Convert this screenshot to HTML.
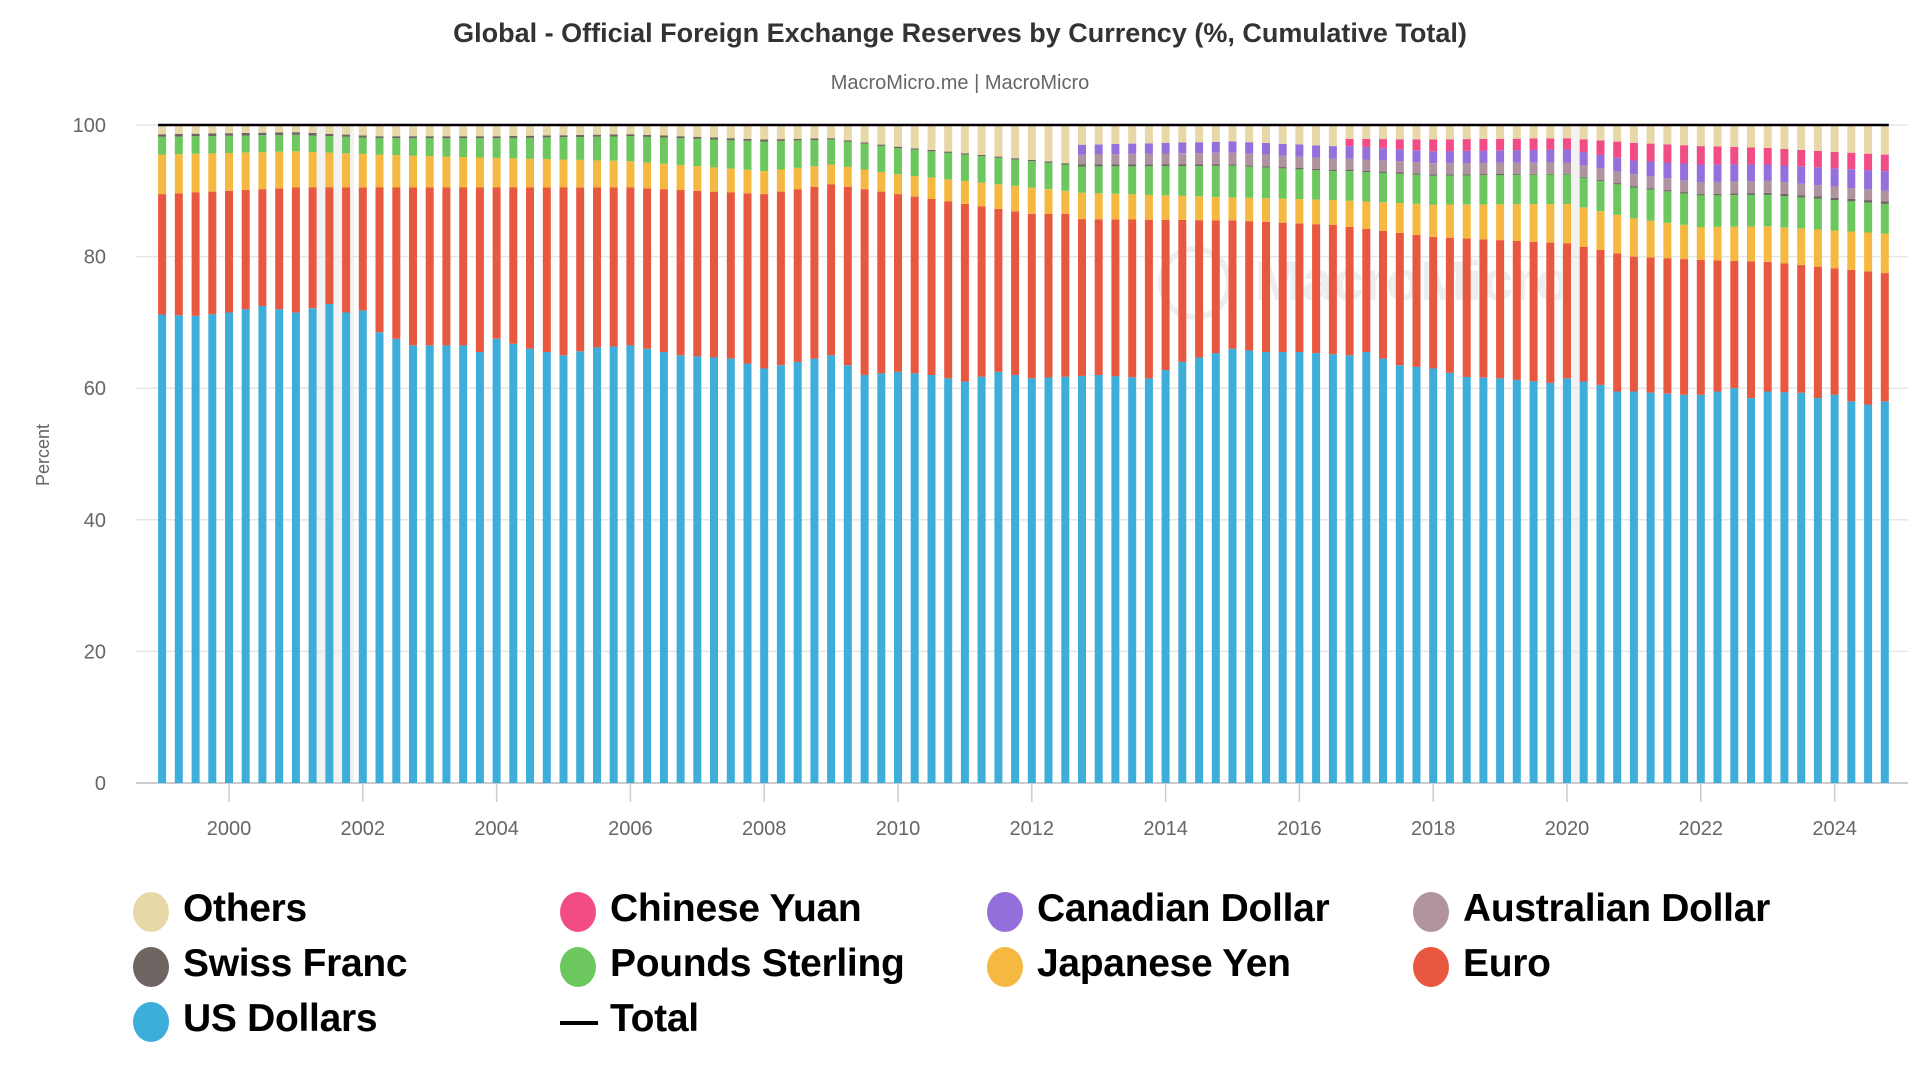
<!DOCTYPE html>
<html><head><meta charset="utf-8"><style>
body{margin:0;background:#fff;width:1920px;height:1080px;overflow:hidden;font-family:"Liberation Sans",sans-serif}
.lg{position:absolute;font-weight:900;font-size:39px;color:#000;letter-spacing:-0.3px}
.dot{position:absolute;width:36px;height:40px;border-radius:50%}
</style></head><body>
<svg id="s" width="1920" height="1080" style="position:absolute;left:0;top:0"></svg>
<div id="leg"></div>
<script>
const S=document.getElementById('s');let h='';
h+='<text x="960" y="42" text-anchor="middle" font-size="27" font-weight="bold" fill="#333" font-family="Liberation Sans">Global - Official Foreign Exchange Reserves by Currency (%, Cumulative Total)</text>';
h+='<text x="960" y="89" text-anchor="middle" font-size="20" fill="#666" font-family="Liberation Sans">MacroMicro.me | MacroMicro</text>';
const Y=v=>783-v*6.58;const X=t=>229+(t-2000)*66.9;
h+='<rect x="314" y="125" width="40" height="658" fill="#f2f2f2"/>';
h+='<rect x="1561" y="125" width="20" height="658" fill="#f2f2f2"/>';
for(let v=0;v<=100;v+=20){h+='<line x1="136" x2="1908" y1="'+Y(v)+'" y2="'+Y(v)+'" stroke="#e6e6e6" stroke-width="1.5"/>';
h+='<text x="106" y="'+(Y(v)+7)+'" text-anchor="end" font-size="20" fill="#666" font-family="Liberation Sans">'+v+'</text>';}
h+='<text transform="translate(49,455) rotate(-90)" text-anchor="middle" font-size="18" fill="#666" font-family="Liberation Sans">Percent</text>';
h+='<line x1="136" x2="1908" y1="783" y2="783" stroke="#ccc" stroke-width="2"/>';
for(let y=2000;y<=2024;y+=2){const x=X(y);h+='<line x1="'+x+'" x2="'+x+'" y1="783" y2="802" stroke="#ccc" stroke-width="1.5"/><text x="'+x+'" y="835" text-anchor="middle" font-size="20" fill="#666" font-family="Liberation Sans">'+y+'</text>';}
h+='<text x="1255" y="300" font-size="56" fill="#eee" font-family="Liberation Sans" font-weight="bold">MacroMicro</text><circle cx="1195" cy="283" r="34" fill="none" stroke="#eee" stroke-width="6"/>';
const usdK=[[1999,71.2],[1999.5,71],[2000,71.5],[2000.5,72.5],[2001,71.5],[2001.5,72.8],[2001.75,71.5],[2002,71.8],[2002.25,68.5],[2002.75,66.5],[2003.5,66.5],[2003.75,65.5],[2004,67.5],[2004.5,66],[2005,65],[2005.5,66.2],[2006,66.5],[2006.75,65],[2007.5,64.5],[2008,63],[2008.5,64],[2009,65],[2009.5,62],[2010,62.5],[2010.5,62],[2011,61],[2011.5,62.5],[2012,61.5],[2013,62],[2013.75,61.5],[2014.25,64],[2015,66],[2015.5,65.5],[2016,65.5],[2016.75,65],[2017,65.5],[2017.5,63.5],[2018,63],[2018.5,61.7],[2019,61.5],[2019.75,60.8],[2020,61.5],[2020.5,60.5],[2020.75,59.5],[2021,59.5],[2021.75,59],[2022,59],[2022.5,60],[2022.75,58.5],[2023,59.5],[2023.5,59.3],[2023.75,58.5],[2024,59],[2024.25,58],[2024.5,57.5],[2024.75,58]];
const K=[[1999,89.5,95.5,98.2,98.6,98.6,98.6,98.6],[2001,90.5,96,98.5,98.9,98.9,98.9,98.9],[2002.25,90.5,95.5,98,98.3,98.3,98.3,98.3],[2004,90.5,95,98,98.3,98.3,98.3,98.3],[2006,90.5,94.5,98.3,98.6,98.6,98.6,98.6],[2008,89.5,93,97.5,97.8,97.8,97.8,97.8],[2009,91,94,97.8,98,98,98,98],[2010,89.5,92.5,96.5,96.7,96.7,96.7,96.7],[2012,86.5,90.5,94.5,94.7,94.7,94.7,94.7],[2012.5,86.5,90,94,94.2,94.2,94.2,94.2],[2012.75,85.7,89.7,93.7,94,95.5,97,97],[2015,85.5,89,93.8,94,95.8,97.5,97.5],[2016.5,84.8,88.6,93,93.2,94.9,96.8,96.8],[2016.75,84.5,88.5,93,93.2,94.9,96.8,97.9],[2018,83,87.9,92.3,92.5,94.2,96,97.8],[2020,82,88,92.5,92.6,94.3,96.3,98],[2021,80,85.8,90.5,90.7,92.5,94.6,97.3],[2022,79.5,84.5,89.3,89.5,91.3,94,96.8],[2023,79.2,84.6,89.4,89.7,91.5,94,96.5],[2024.75,77.5,83.5,88,88.4,90,93,95.5]];
function lerp(A,t){for(let i=0;i<A.length-1;i++){if(t<=A[i+1][0]){const a=A[i],b=A[i+1],f=(t-a[0])/(b[0]-a[0]);return a.map((v,j)=>v+(b[j]-v)*f);}}return A[A.length-1].slice();}
const cols=['#3caed9','#e8573f','#f5b942','#6cc75f','#6e6563','#b0939e','#9370db','#f14c86','#e8d7a7'];
for(let i=0;i<104;i++){const t=1999+i/4;const u=lerp(usdK,t)[1];const k=lerp(K,t);let tops=[u,k[1],k[2],k[3],k[4],k[5],k[6],k[7],100];let prev=0;const x=X(t)-4;
for(let j=0;j<9;j++){const top=Math.max(tops[j],prev);if(top-prev>0.01){h+='<rect x="'+x.toFixed(1)+'" y="'+Y(top).toFixed(1)+'" width="8" height="'+(Y(prev)-Y(top)).toFixed(1)+'" fill="'+cols[j]+'"/>';}prev=top;}}
h+='<line x1="'+(X(1999)-4)+'" x2="'+(X(2024.75)+4)+'" y1="125" y2="125" stroke="#000" stroke-width="2.5"/>';
S.innerHTML=h;
const L=[['Others','#e8d7a7'],['Chinese Yuan','#f14c86'],['Canadian Dollar','#9370db'],['Australian Dollar','#b0939e'],['Swiss Franc','#6e6563'],['Pounds Sterling','#6cc75f'],['Japanese Yen','#f5b942'],['Euro','#e8573f'],['US Dollars','#3caed9'],['Total',null]];
let g='';const cx=[133,560,987,1413],ry=[912,967,1022];
L.forEach((e,i)=>{const c=i%4,r=Math.floor(i/4);const x=cx[c],y=ry[r];
if(e[1])g+='<div class="dot" style="left:'+x+'px;top:'+(y-20)+'px;background:'+e[1]+'"></div>';else g+='<div style="position:absolute;left:'+x+'px;top:'+(y-1)+'px;width:38px;height:4px;background:#000"></div>';
g+='<div class="lg" style="top:'+(y-25)+'px;left:'+(x+50)+'px">'+e[0]+'</div>';});
document.getElementById('leg').innerHTML=g;
</script></body></html>
